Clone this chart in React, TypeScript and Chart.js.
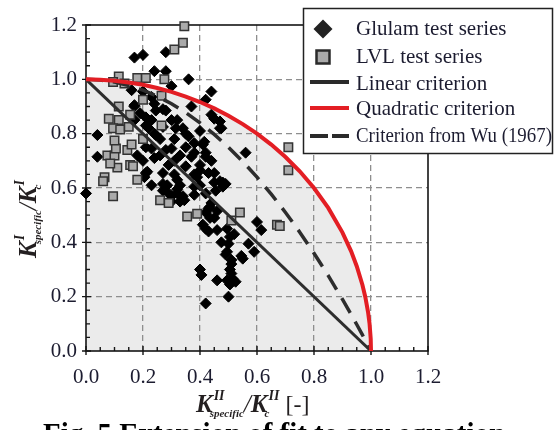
import { useEffect, useRef } from 'react';
import { Chart, registerables } from 'chart.js';

Chart.register(...registerables);

// ---------- data ----------
const glulamX = [
  0.17, 0.20, 0.28, 0.24, 0.28, 0.36, 0.30, 0.16, 0.20, 0.44,
  0.42, 0.37, 0.27, 0.24, 0.17, 0.21, 0.44, 0.47, 0.45, 0.32,
  0.34, 0.04, 0.36, 0.40, 0.47, 0.56, 0.24, 0.26, 0.31, 0.21,
  0.28, 0.35, 0.41, 0.38, 0.42, 0.04, 0.18, 0.24, 0.31, 0.35,
  0.40, 0.45, 0.21, 0.27, 0.32, 0.23, 0.38, 0.45, 0.48, 0.00,
  0.29, 0.34, 0.27, 0.32, 0.30, 0.33, 0.38, 0.42, 0.40, 0.435,
  0.42, 0.435, 0.42, 0.46, 0.475, 0.505, 0.52, 0.57, 0.60, 0.615,
  0.59, 0.545, 0.495, 0.51, 0.505, 0.40, 0.405, 0.46, 0.515, 0.525,
  0.505, 0.50, 0.42, 0.50, 0.49, 0.55, 0.51, 0.495, 0.51, 0.22,
  0.245, 0.315, 0.35, 0.415, 0.38, 0.30, 0.23, 0.26, 0.33, 0.37,
  0.42, 0.44, 0.40, 0.29, 0.20, 0.215, 0.31, 0.38, 0.43, 0.205,
  0.285, 0.33, 0.27, 0.32, 0.30, 0.345, 0.41, 0.43, 0.475, 0.47,
  0.48, 0.455, 0.44, 0.46, 0.45, 0.495, 0.39, 0.49, 0.43, 0.17,
  0.23, 0.245, 0.19, 0.23, 0.28, 0.30, 0.27, 0.21, 0.17,
];
const glulamY = [
  1.08, 1.09, 1.10, 1.03, 1.03, 1.00, 0.975, 0.96, 0.955, 0.955,
  0.925, 0.90, 0.89, 0.91, 0.90, 0.86, 0.87, 0.845, 0.855, 0.85,
  0.82, 0.795, 0.79, 0.81, 0.82, 0.73, 0.80, 0.78, 0.78, 0.75,
  0.74, 0.75, 0.76, 0.73, 0.715, 0.715, 0.72, 0.71, 0.70, 0.68,
  0.665, 0.655, 0.655, 0.655, 0.63, 0.61, 0.605, 0.62, 0.62, 0.58,
  0.58, 0.57, 0.615, 0.595, 0.57, 0.55, 0.575, 0.58, 0.61, 0.53,
  0.51, 0.49, 0.45, 0.445, 0.40, 0.42, 0.43, 0.395, 0.475, 0.445,
  0.365, 0.35, 0.365, 0.335, 0.30, 0.30, 0.28, 0.26, 0.265, 0.255,
  0.245, 0.20, 0.175, 0.395, 0.355, 0.34, 0.32, 0.26, 0.285, 0.82,
  0.795, 0.82, 0.80, 0.77, 0.765, 0.745, 0.745, 0.72, 0.72, 0.715,
  0.73, 0.70, 0.685, 0.685, 0.70, 0.66, 0.65, 0.65, 0.655, 0.64,
  0.61, 0.61, 0.59, 0.58, 0.55, 0.555, 0.465, 0.44, 0.82, 0.625,
  0.605, 0.59, 0.545, 0.515, 0.49, 0.45, 0.64, 0.615, 0.525, 0.905,
  0.935, 0.885, 0.875, 0.85, 0.885, 0.85, 0.825, 0.83, 0.85,
];
const lvlX = [
  0.345, 0.34, 0.31, 0.115, 0.095, 0.135, 0.18, 0.21, 0.275, 0.20,
  0.265, 0.115, 0.08, 0.115, 0.095, 0.12, 0.155, 0.15, 0.20, 0.265,
  0.075, 0.10, 0.145, 0.105, 0.11, 0.155, 0.165, 0.065, 0.06, 0.18,
  0.095, 0.085, 0.16, 0.10, 0.26, 0.29, 0.355, 0.39, 0.54, 0.51,
  0.67, 0.68, 0.71, 0.71,
];
const lvlY = [
  1.195, 1.135, 1.11, 1.01, 0.99, 0.985, 1.005, 1.005, 1.00, 0.925,
  0.94, 0.90, 0.855, 0.85, 0.82, 0.815, 0.87, 0.825, 0.78, 0.83,
  0.72, 0.72, 0.74, 0.745, 0.675, 0.685, 0.68, 0.64, 0.625, 0.63,
  0.57, 0.69, 0.76, 0.775, 0.555, 0.545, 0.495, 0.505, 0.51, 0.48,
  0.465, 0.46, 0.75, 0.665,
];
// sample positions for the theoretical failure criteria
const criterionX = [
  0, 0.05, 0.1, 0.15, 0.2, 0.25, 0.3, 0.35, 0.4, 0.45, 0.5, 0.55, 0.6,
  0.65, 0.7, 0.75, 0.8, 0.85, 0.9, 0.93, 0.95, 0.97, 0.98, 0.99, 0.995, 0.999, 1,
];
const linearX = [0, 1];
const xTickLabels = ['0.0', '0.2', '0.4', '0.6', '0.8', '1.0', '1.2'];
const yTickLabels = ['0.0', '0.2', '0.4', '0.6', '0.8', '1.0', '1.2'];
const legendLabels = [
  'Glulam test series',
  'LVL test series',
  'Linear criterion',
  'Quadratic criterion',
  'Criterion from Wu (1967)',
];
const captionText = 'Fig. 5 Extension of fit to any equation';

// criteria definitions
const linearCrit = (x: number) => 1 - x;
const quadraticCrit = (x: number) => Math.sqrt(Math.max(0, 1 - x * x));
const wuCrit = (x: number) => 1 - x * x;

const SERIF = "'Liberation Serif', 'Times New Roman', serif";
const TEXT = '#1c1c30';

type Run = { text?: string; font?: string; dy?: number; stack?: { text: string; font: string; dy: number; dx?: number }[] };

function drawRuns(ctx: CanvasRenderingContext2D, runs: Run[], x: number, y: number) {
  let cx = x;
  for (const r of runs) {
    if (r.stack) {
      let w = 0;
      for (const s of r.stack) {
        ctx.font = s.font;
        ctx.fillText(s.text, cx + (s.dx || 0), y + s.dy);
        w = Math.max(w, ctx.measureText(s.text).width + (s.dx || 0));
      }
      cx += w;
    } else if (r.text) {
      ctx.font = r.font as string;
      ctx.fillText(r.text, cx, y + (r.dy || 0));
      cx += ctx.measureText(r.text).width;
    }
  }
  return cx - x;
}

const BI_BIG = `italic bold 25px ${SERIF}`;
const BI_SUP = `italic bold 14px ${SERIF}`;
const BI_SUB = `italic bold 11px ${SERIF}`;

const decorPlugin = {
  id: 'decor',
  beforeDatasetsDraw(chart: any) {
    const ctx: CanvasRenderingContext2D = chart.ctx;
    const { left, right, top, bottom } = chart.chartArea;
    const xs = chart.scales.x;
    const ys = chart.scales.y;
    ctx.save();
    ctx.strokeStyle = '#151515';
    ctx.lineWidth = 1.6;
    ctx.setLineDash([]);
    ctx.strokeRect(left, top, right - left, bottom - top);
    ctx.lineWidth = 1.4;
    ctx.beginPath();
    for (let i = 0; i <= 24; i++) {
      const v = i * 0.05;
      const major = i % 4 === 0;
      const px = xs.getPixelForValue(v);
      ctx.moveTo(px, bottom + (major ? 4 : 0));
      ctx.lineTo(px, bottom - (major ? 5 : 4));
      const py = ys.getPixelForValue(v);
      ctx.moveTo(left - (major ? 4 : 0), py);
      ctx.lineTo(left + (major ? 5 : 4), py);
    }
    ctx.stroke();
    ctx.restore();
  },
  afterDraw(chart: any) {
    const ctx: CanvasRenderingContext2D = chart.ctx;
    ctx.save();
    ctx.setLineDash([]);
    ctx.fillStyle = '#231f20';
    ctx.textBaseline = 'alphabetic';
    ctx.textAlign = 'left';

    // x-axis title
    drawRuns(ctx, [
      { text: 'K', font: BI_BIG },
      { stack: [{ text: 'II', font: BI_SUP, dy: -12, dx: 1 }, { text: 'specific', font: BI_SUB, dy: 5, dx: -3 }] },
      { text: '/', font: `italic 25px ${SERIF}` },
      { text: 'K', font: BI_BIG },
      { stack: [{ text: 'II', font: BI_SUP, dy: -12, dx: 1 }, { text: 'c', font: BI_SUB, dy: 5, dx: -3 }] },
      { text: ' [-]', font: `24px ${SERIF}` },
    ], 196, 412);

    // y-axis title (rotated)
    ctx.save();
    ctx.translate(36, 258);
    ctx.rotate(-Math.PI / 2);
    drawRuns(ctx, [
      { text: 'K', font: BI_BIG },
      { stack: [{ text: 'I', font: BI_SUP, dy: -12, dx: 1 }, { text: 'specific', font: BI_SUB, dy: 5, dx: -3 }] },
      { text: '/', font: `italic 25px ${SERIF}` },
      { text: 'K', font: BI_BIG },
      { stack: [{ text: 'I', font: BI_SUP, dy: -12, dx: 1 }, { text: 'c', font: BI_SUB, dy: 5, dx: -3 }] },
    ], 0, 0);
    ctx.restore();

    // caption (cut by the bottom edge)
    ctx.fillStyle = '#000';
    ctx.font = `bold 30px ${SERIF}`;
    ctx.fillText(captionText, 43, 443, 462);

    // legend
    const lx = 303, ly = 8, lw = 250, lh = 146;
    ctx.fillStyle = '#ffffff';
    ctx.fillRect(lx, ly, lw, lh);
    ctx.strokeStyle = '#222';
    ctx.lineWidth = 1.5;
    ctx.strokeRect(lx + 0.5, ly + 0.5, lw - 1, lh - 1);

    // diamond
    ctx.fillStyle = '#222';
    ctx.beginPath();
    ctx.moveTo(323, 19.5); ctx.lineTo(332.5, 29); ctx.lineTo(323, 38.5); ctx.lineTo(313.5, 29);
    ctx.closePath(); ctx.fill();
    // square
    ctx.fillStyle = '#aaaaaa';
    ctx.fillRect(316.5, 50.5, 13, 13);
    ctx.strokeStyle = '#2a2a2a';
    ctx.lineWidth = 2.5;
    ctx.strokeRect(316.5, 50.5, 13, 13);
    // lines
    ctx.lineWidth = 4;
    ctx.strokeStyle = '#2a2a2a';
    ctx.beginPath(); ctx.moveTo(310, 82); ctx.lineTo(349, 82); ctx.stroke();
    ctx.strokeStyle = '#e31e24';
    ctx.beginPath(); ctx.moveTo(310, 108); ctx.lineTo(349, 108); ctx.stroke();
    ctx.strokeStyle = '#2a2a2a';
    ctx.beginPath(); ctx.moveTo(310, 136); ctx.lineTo(328, 136); ctx.moveTo(332, 136); ctx.lineTo(349, 136); ctx.stroke();

    ctx.fillStyle = TEXT;
    ctx.font = `21px ${SERIF}`;
    const baselines = [35, 63, 90, 115, 142];
    legendLabels.forEach((t, i) => ctx.fillText(t, 356, baselines[i], 196));
    ctx.restore();
  },
};

export default function App() {
  const ref = useRef<HTMLCanvasElement | null>(null);
  useEffect(() => {
    document.body.style.margin = '0';
    const canvas = ref.current;
    if (!canvas) return;
    const gridColor = (c: any) => {
      const v = c.tick ? c.tick.value : 0;
      return v < 0.01 || v > 1.19 ? 'rgba(0,0,0,0)' : '#8e8e8e';
    };
    const chart = new Chart(canvas, {
      type: 'scatter',
      data: {
        datasets: [
          {
            label: 'Quadratic criterion',
            data: criterionX.map((x) => ({ x, y: quadraticCrit(x) })),
            showLine: true,
            borderColor: '#e31e24',
            borderWidth: 4,
            pointRadius: 0,
            fill: 'origin',
            backgroundColor: '#ebebeb',
            order: 0,
          } as any,
          {
            label: 'Linear criterion',
            data: linearX.map((x) => ({ x, y: linearCrit(x) })),
            showLine: true,
            borderColor: '#2d2d2d',
            borderWidth: 3,
            pointRadius: 0,
            fill: false,
            order: 0,
          },
          {
            label: 'Criterion from Wu (1967)',
            data: criterionX.map((x) => ({ x, y: wuCrit(x) })),
            showLine: true,
            borderColor: '#2d2d2d',
            borderWidth: 3.5,
            borderDash: [17, 10],
            pointRadius: 0,
            fill: false,
            order: 0,
          },
          {
            label: 'LVL test series',
            data: lvlX.map((x, i) => ({ x, y: lvlY[i] })),
            pointStyle: 'rect',
            pointRadius: 6,
            pointBackgroundColor: '#aaaaaa',
            pointBorderColor: '#333333',
            pointBorderWidth: 1.5,
            clip: false,
            order: 1,
          } as any,
          {
            label: 'Glulam test series',
            data: glulamX.map((x, i) => ({ x, y: glulamY[i] })),
            pointStyle: 'rectRot',
            pointRadius: 5.5,
            pointBackgroundColor: '#000000',
            pointBorderColor: '#000000',
            pointBorderWidth: 1,
            clip: false,
            order: 2,
          } as any,
        ],
      },
      options: {
        animation: false,
        responsive: false,
        devicePixelRatio: 1,
        layout: { padding: { left: 0, right: 127, top: 25, bottom: 0 } },
        plugins: {
          legend: { display: false },
          tooltip: { enabled: false },
          filler: { drawTime: 'beforeDraw' } as any,
        },
        scales: {
          x: {
            type: 'linear',
            min: 0,
            max: 1.2,
            afterFit: (s: any) => { s.height = 79; },
            ticks: {
              stepSize: 0.2,
              padding: 14,
              color: TEXT,
              font: { family: SERIF, size: 21 },
              callback: (_v: any, i: number) => xTickLabels[i],
            },
            grid: { color: gridColor, lineWidth: 1.3, drawTicks: false },
            border: { display: false, dash: [6, 4] },
          },
          y: {
            type: 'linear',
            min: 0,
            max: 1.2,
            afterFit: (s: any) => { s.width = 86; },
            ticks: {
              stepSize: 0.2,
              padding: 9,
              color: TEXT,
              font: { family: SERIF, size: 21 },
              callback: (_v: any, i: number) => yTickLabels[i],
            },
            grid: { color: gridColor, lineWidth: 1.3, drawTicks: false },
            border: { display: false, dash: [6, 4] },
          },
        },
      },
      plugins: [decorPlugin],
    });
    return () => chart.destroy();
  }, []);
  return (
    <div style={{ width: 555, height: 430 }}>
      <canvas ref={ref} width={555} height={430} style={{ display: 'block' }} />
    </div>
  );
}
